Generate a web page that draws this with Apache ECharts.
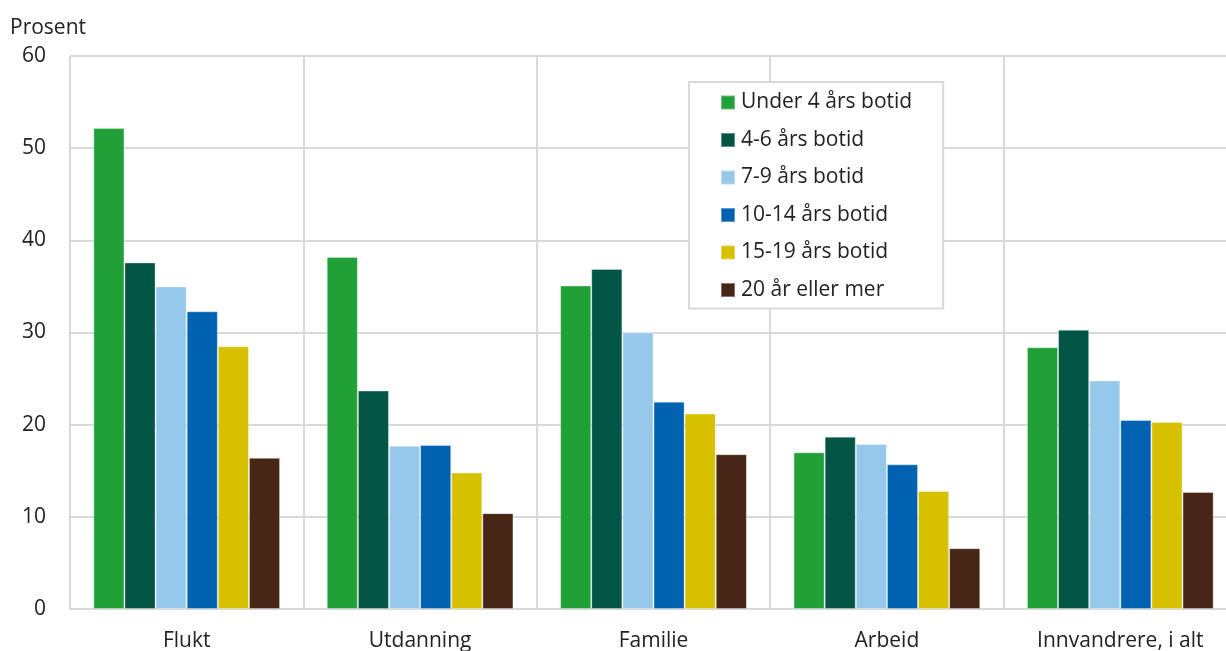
<!DOCTYPE html>
<html>
<head>
<meta charset="utf-8">
<script src="https://cdn.jsdelivr.net/npm/echarts@6/dist/echarts.min.js"></script>
<style>html,body{margin:0;padding:0;background:#fff;overflow:hidden;}#c{width:1240px;height:651px;}</style>
</head>
<body>
<div id="c"></div>
<script>
const categories = ['Flukt', 'Utdanning', 'Familie', 'Arbeid', 'Innvandrere, i alt'];
const seriesNames = ['Under 4 års botid', '4-6 års botid', '7-9 års botid', '10-14 års botid', '15-19 års botid', '20 år eller mer'];
const under4 = [52.2, 38.2, 35.1, 17.0, 28.4];
const y4to6 = [37.6, 23.7, 36.9, 18.7, 30.3];
const y7to9 = [35.0, 17.7, 30.0, 17.9, 24.8];
const y10to14 = [32.3, 17.8, 22.5, 15.7, 20.5];
const y15to19 = [28.5, 14.8, 21.2, 12.8, 20.3];
const y20plus = [16.4, 10.4, 16.8, 6.6, 12.7];
const colors = ['#21a038', '#005545', '#96c8ec', '#0062b0', '#d7c000', '#472616'];
const allData = [under4, y4to6, y7to9, y10to14, y15to19, y20plus];

const font = '"Open Sans", sans-serif';
const chart = echarts.init(document.getElementById('c'), null, {renderer: 'canvas'});
chart.setOption({
  animation: false,
  textStyle: {fontFamily: font},
  title: {
    text: 'Prosent', left: 5, top: 13,
    textStyle: {fontFamily: font, fontSize: 21, fontWeight: 'normal', color: '#222'}
  },
  legend: {
    orient: 'vertical',
    left: 689, top: 82,
    padding: [10, 31, 8, 31],
    itemGap: 16.5,
    itemWidth: 14, itemHeight: 14,
    icon: 'rect',
    borderColor: '#d9d9d9', borderWidth: 2,
    backgroundColor: '#fff',
    textStyle: {fontFamily: font, fontSize: 21, color: '#222', padding: [0, 0, 0, 1]},
    data: seriesNames
  },
  grid: {left: 70, top: 56, right: 3, bottom: 42, containLabel: false, outerBoundsMode: 'none'},
  xAxis: {
    type: 'category',
    data: categories,
    axisLine: {show: true, lineStyle: {color: '#d9d9d9', width: 2}},
    axisTick: {show: false},
    splitLine: {show: true, lineStyle: {color: '#d9d9d9', width: 2}},
    axisLabel: {fontFamily: font, fontSize: 21, color: '#222', margin: 22}
  },
  yAxis: {
    type: 'value', min: 0, max: 60, interval: 10,
    axisLine: {show: false},
    axisTick: {show: false},
    splitLine: {lineStyle: {color: '#d9d9d9', width: 2}},
    axisLabel: {fontFamily: font, fontSize: 21, color: '#222', margin: 24}
  },
  series: seriesNames.map((n, i) => ({
    name: n, type: 'bar', data: allData[i],
    barGap: '0%', barCategoryGap: '20%',
    itemStyle: {color: colors[i], borderColor: 'rgba(255,255,255,0.35)', borderWidth: 1}
  }))
});
</script>
</body>
</html>
